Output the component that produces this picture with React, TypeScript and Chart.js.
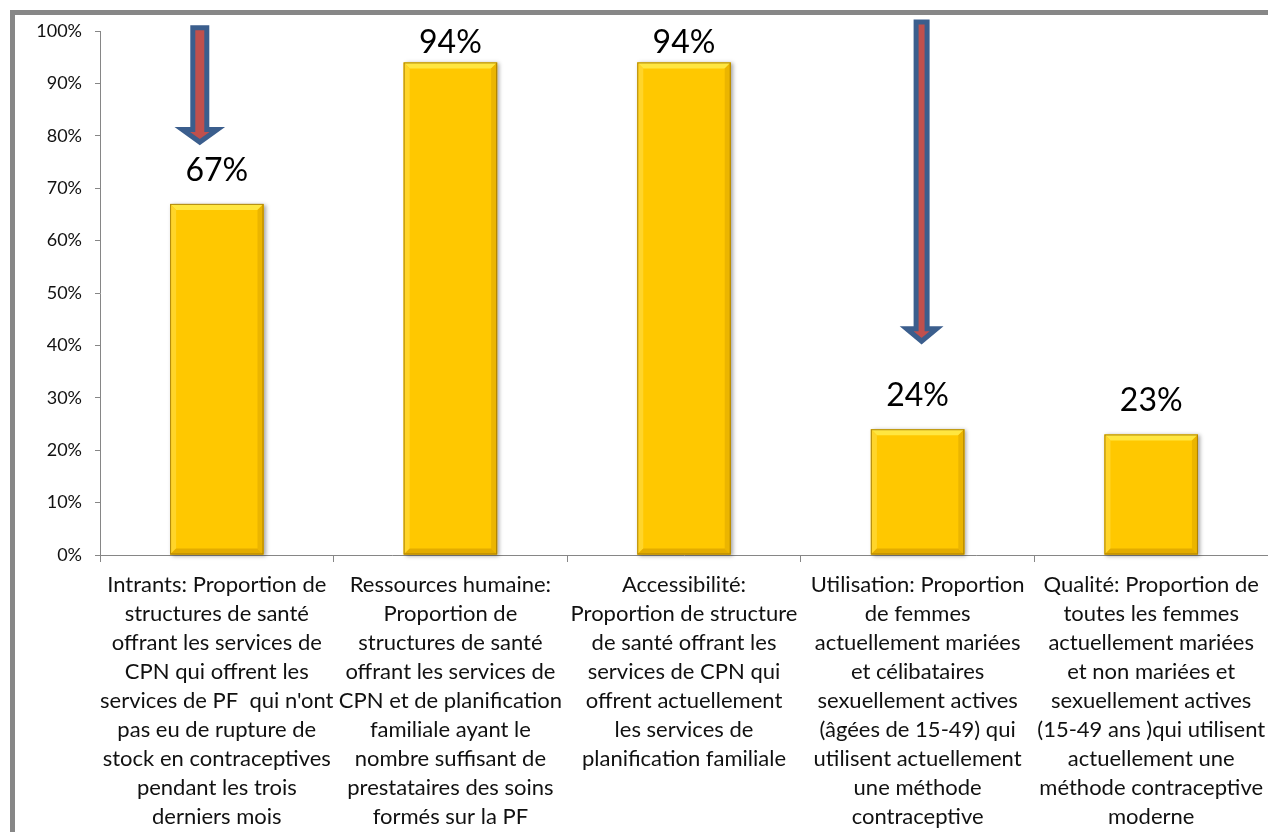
import { useEffect, useRef } from 'react';
import { Chart, registerables } from 'chart.js';

Chart.register(...registerables);

// Category labels, one array of lines per bar
const categories: string[][] = [
  ['Intrants: Proportion de', 'structures de santé', 'offrant les services de', 'CPN qui offrent les', "services de PF  qui n'ont", 'pas eu de rupture de', 'stock en contraceptives', 'pendant les trois', 'derniers mois'],
  ['Ressources humaine:', 'Proportion de', 'structures de santé', 'offrant les services de', 'CPN et de planification', 'familiale ayant le', 'nombre suffisant de', 'prestataires des soins', 'formés sur la PF'],
  ['Accessibilité:', 'Proportion de structure', 'de santé offrant les', 'services de CPN qui', 'offrent actuellement', 'les services de', 'planification familiale'],
  ['Utilisation: Proportion', 'de femmes', 'actuellement mariées', 'et célibataires', 'sexuellement actives', '(âgées de 15-49) qui', 'utilisent actuellement', 'une méthode', 'contraceptive'],
  ['Qualité: Proportion de', 'toutes les femmes', 'actuellement mariées', 'et non mariées et', 'sexuellement actives', '(15-49 ans )qui utilisent', 'actuellement une', 'méthode contraceptive', 'moderne'],
];

// Percentages per indicator
const values: number[] = [67, 94, 94, 24, 23];

// Y axis range and step (percent)
const yMin = 0;
const yMax = 100;
const yStep = 10;

// Downward arrows: category index, start / end value on the y scale
const arrowIndex: number[] = [0, 3];
const arrowFrom: number[] = [100.6, 101.7];
const arrowTo: number[] = [78.8, 40.8];

const FONT = 'Lato, "Open Sans", sans-serif';
const AXIS_GREY = '#868686';

// Per-arrow drawing geometry (pixels)
const arrowStyle = [
  { shift: -17, shaft: 7, head: 17.5, headLen: 12.5 },
  { shift: 4, shaft: 5.5, head: 15, headLen: 12.5 },
];

const framePlugin = {
  id: 'frame',
  beforeDraw(chart: any) {
    const { ctx, width, height } = chart;
    ctx.save();
    ctx.fillStyle = '#ffffff';
    ctx.fillRect(0, 0, width, height);
    ctx.strokeStyle = '#878787';
    ctx.lineWidth = 5;
    ctx.strokeRect(12.5, 12.5, width + 40, height + 40);
    ctx.restore();
  },
};

function barBox(bar: any) {
  const { x, y, base, width } = bar.getProps(['x', 'y', 'base', 'width'], true);
  return { l: x - width / 2, r: x + width / 2, t: Math.min(y, base), b: Math.max(y, base), x, w: width };
}

const bevelPlugin = {
  id: 'bevel',
  beforeDatasetsDraw(chart: any) {
    const { ctx } = chart;
    const meta = chart.getDatasetMeta(0);
    ctx.save();
    meta.data.forEach((bar: any) => {
      const { l, t, b, w } = barBox(bar);
      ctx.shadowColor = 'rgba(0,0,0,0.35)';
      ctx.shadowBlur = 4;
      ctx.shadowOffsetX = 2;
      ctx.shadowOffsetY = 1;
      ctx.fillStyle = '#E0AA00';
      ctx.fillRect(l, t, w, b - t);
    });
    ctx.restore();
  },
  afterDatasetsDraw(chart: any) {
    const { ctx } = chart;
    const meta = chart.getDatasetMeta(0);
    const poly = (pts: number[][], color: string) => {
      ctx.beginPath();
      ctx.moveTo(pts[0][0], pts[0][1]);
      for (let i = 1; i < pts.length; i++) ctx.lineTo(pts[i][0], pts[i][1]);
      ctx.closePath();
      ctx.fillStyle = color;
      ctx.fill();
    };
    ctx.save();
    meta.data.forEach((bar: any) => {
      const { l, r, t, b, w } = barBox(bar);
      const e = 6;
      poly([[l, t], [r, t], [r - e, t + e], [l + e, t + e]], '#FFE640');
      poly([[l, t], [l + e, t + e], [l + e, b - e], [l, b]], '#FFD52A');
      poly([[r, t], [r, b], [r - e, b - e], [r - e, t + e]], '#EBB500');
      poly([[l, b], [l + e, b - e], [r - e, b - e], [r, b]], '#E3AC00');
      ctx.strokeStyle = 'rgba(150,110,0,0.75)';
      ctx.lineWidth = 1;
      ctx.strokeRect(l + 0.5, t + 0.5, w - 1, b - t - 1);
    });

    // value labels above the bars, kept inside the plot area
    ctx.fillStyle = '#000000';
    ctx.font = `32px ${FONT}`;
    ctx.textAlign = 'center';
    ctx.textBaseline = 'alphabetic';
    const top = chart.chartArea.top;
    meta.data.forEach((bar: any, i: number) => {
      const { x, t } = barBox(bar);
      const yText = Math.max(t - 23, top + 22);
      ctx.fillText(`${values[i]}%`, x, yText);
    });
    ctx.restore();
  },
};

const arrowPlugin = {
  id: 'arrows',
  afterDraw(chart: any) {
    const { ctx } = chart;
    const xs = chart.scales.x;
    const ys = chart.scales.y;
    ctx.save();
    arrowIndex.forEach((idx, k) => {
      const st = arrowStyle[k];
      const cx = xs.getPixelForValue(idx) + st.shift;
      const y0 = ys.getPixelForValue(arrowFrom[k]);
      const y1 = ys.getPixelForValue(arrowTo[k]);
      const hb = y1 - st.headLen;
      ctx.beginPath();
      ctx.moveTo(cx - st.shaft, y0);
      ctx.lineTo(cx + st.shaft, y0);
      ctx.lineTo(cx + st.shaft, hb);
      ctx.lineTo(cx + st.head, hb);
      ctx.lineTo(cx, y1);
      ctx.lineTo(cx - st.head, hb);
      ctx.lineTo(cx - st.shaft, hb);
      ctx.closePath();
      ctx.fillStyle = '#C0504D';
      ctx.fill();
      ctx.lineJoin = 'miter';
      ctx.lineWidth = 5;
      ctx.strokeStyle = '#3B5E8D';
      ctx.stroke();
    });
    ctx.restore();
  },
};

export default function App() {
  const canvasRef = useRef<HTMLCanvasElement | null>(null);

  useEffect(() => {
    const canvas = canvasRef.current;
    if (!canvas) return;
    const chart = new Chart(canvas, {
      type: 'bar',
      data: {
        labels: categories,
        datasets: [
          {
            data: values,
            backgroundColor: '#FFC800',
            borderWidth: 0,
            barPercentage: 0.4,
            categoryPercentage: 1,
          },
        ],
      },
      options: {
        responsive: false,
        animation: false,
        devicePixelRatio: 1,
        layout: { padding: { left: 0, top: 31, right: 0, bottom: 0 } },
        plugins: {
          legend: { display: false },
          tooltip: { enabled: false },
        },
        scales: {
          x: {
            border: { display: true, color: AXIS_GREY, width: 1 },
            grid: {
              display: true,
              drawOnChartArea: false,
              drawTicks: true,
              tickLength: 7,
              color: AXIS_GREY,
              offset: true,
            },
            ticks: {
              autoSkip: false,
              maxRotation: 0,
              minRotation: 0,
              padding: 8,
              color: '#111111',
              font: { family: FONT, size: 22, lineHeight: 29 / 22 },
            },
            afterFit(scale: any) {
              scale.height = 277;
              scale.paddingLeft = 0;
              scale.paddingRight = 0;
            },
          },
          y: {
            min: yMin,
            max: yMax,
            border: { display: true, color: AXIS_GREY, width: 1 },
            grid: {
              display: true,
              drawOnChartArea: false,
              drawTicks: true,
              tickLength: 5,
              color: AXIS_GREY,
            },
            ticks: {
              stepSize: yStep,
              padding: 13,
              color: '#111111',
              font: { family: FONT, size: 18 },
              callback: (v: any) => `${v}%`,
            },
            afterFit(scale: any) {
              scale.width = 100;
            },
          },
        },
      },
      plugins: [framePlugin, bevelPlugin, arrowPlugin],
    } as any);
    return () => chart.destroy();
  }, []);

  return (
    <div style={{ position: 'fixed', left: 0, top: 0, width: 1268, height: 832, background: '#fff' }}>
      <canvas ref={canvasRef} width={1268} height={832} style={{ display: 'block' }} />
    </div>
  );
}
